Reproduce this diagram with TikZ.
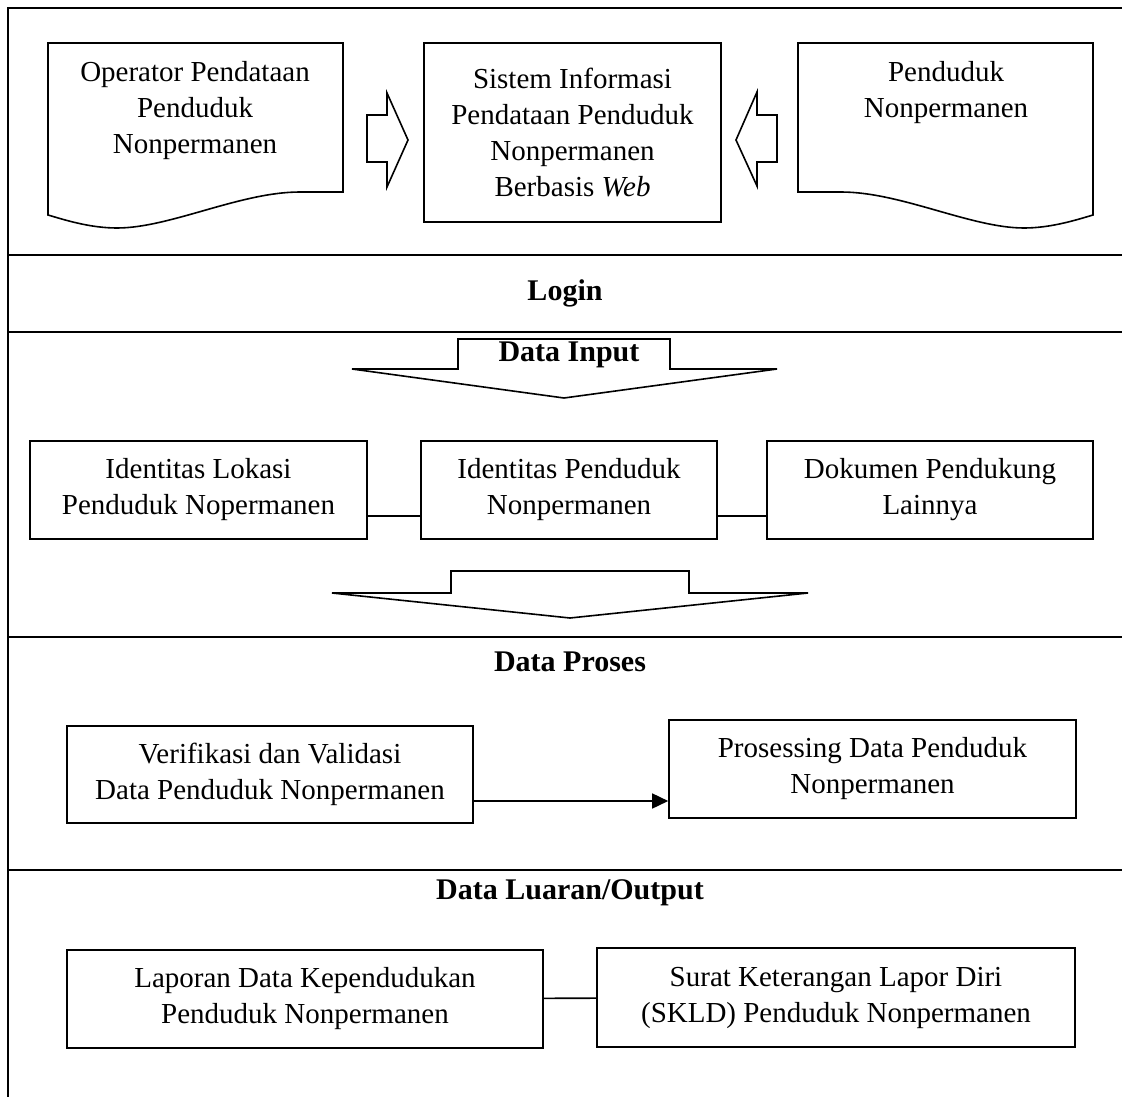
\documentclass[tikz,border=0pt]{standalone}
\usepackage{fontspec}
\setmainfont{Liberation Serif}
\usetikzlibrary{arrows.meta}

\tikzset{
  box/.style={draw, line width=1.6pt, align=center, inner sep=0pt,
    font=\fontsize{29}{36}\selectfont},
  heading/.style={font=\fontsize{30}{34}\selectfont\bfseries},
  rule/.style={line width=2pt},
  outline/.style={draw, line width=1.6pt, line join=miter},
}

\begin{document}
\begin{tikzpicture}[x=1pt, y=-1pt]
    \useasboundingbox (0,0) rectangle (1122,1097);

    % frame and section rules
    \draw[rule] (1122,8) -- (8,8) -- (8,1097);
    \foreach \yy in {255,332,637,870}
        \draw[rule] (8,\yy) -- (1122,\yy);

    % documents and the system
    \draw[outline] (48,43) -- (343,43) -- (343,192) -- (300,192)
        .. controls (240,192) and (170,228) .. (117,228)
        .. controls (90,228) and (65,220) .. (48,215) -- cycle;
    \node[box, draw=none, anchor=north] (operator) at (195,61)
        {Operator Pendataan\\Penduduk\\Nonpermanen};
    \draw[outline] (1093,43) -- (798,43) -- (798,192) -- (841,192)
        .. controls (901,192) and (971,228) .. (1024,228)
        .. controls (1051,228) and (1076,220) .. (1093,215) -- cycle;
    \node[box, draw=none, anchor=north] (penduduk) at (946,61)
        {Penduduk\\Nonpermanen};
    \node[box, minimum width=297pt, minimum height=179pt] (sistem) at (572.5,132.5)
        {Sistem Informasi\\Pendataan Penduduk\\Nonpermanen\\Berbasis \textit{Web}};

    \draw[outline] (367,115) -- (387,115) -- (387,93) -- (408,140)
        -- (387,187) -- (387,162) -- (367,162) -- cycle;
    \draw[outline] (777,115) -- (757,115) -- (757,92) -- (736,140)
        -- (757,186) -- (757,162) -- (777,162) -- cycle;

    \node[heading] (login) at (565,293) {Login};

    % data input
    \draw[outline] (458,369) -- (458,339) -- (670,339) -- (670,369)
        -- (777,369) -- (564,398) -- (352,369) -- cycle;
    \node[heading] (input) at (569,355) {Data Input};

    \node[box, minimum width=337pt, minimum height=98pt] (lokasi) at (198.5,490)
        {Identitas Lokasi\\Penduduk Nopermanen};
    \node[box, minimum width=296pt, minimum height=98pt] (identitas) at (569,490)
        {Identitas Penduduk\\Nonpermanen};
    \node[box, minimum width=326pt, minimum height=98pt] (dokumen) at (930,490)
        {Dokumen Pendukung\\Lainnya};
    \draw[line width=1.6pt] ([yshift=-26pt]lokasi.east) -- ([yshift=-26pt]identitas.west);
    \draw[line width=1.6pt] ([yshift=-26pt]identitas.east) -- ([yshift=-26pt]dokumen.west);

    \draw[outline] (451,593) -- (451,571) -- (689,571) -- (689,593)
        -- (808,593) -- (570,618) -- (332,593) -- cycle;

    % data proses
    \node[heading] (proses) at (570,662) {Data Proses};
    \node[box, minimum width=406pt, minimum height=97pt] (verifikasi) at (270,774.5)
        {Verifikasi dan Validasi\\Data Penduduk Nonpermanen};
    \node[box, minimum width=407pt, minimum height=98pt] (prosessing) at (872.5,769)
        {Prosessing Data Penduduk\\Nonpermanen};
    \draw[line width=1.6pt, -{Triangle[length=16pt, width=15pt]}]
        ([yshift=-26.5pt]verifikasi.east) -- (prosessing.west |- 0,801);

    % data luaran
    \node[heading] (luaran) at (570,893) {Data Luaran/Output};
    \node[box, minimum width=476pt, minimum height=98pt] (laporan) at (305,999)
        {Laporan Data Kependudukan\\Penduduk Nonpermanen};
    \node[box, minimum width=478pt, minimum height=99pt] (surat) at (836,997.5)
        {Surat Keterangan Lapor Diri\\(SKLD) Penduduk Nonpermanen};
    \draw[line width=1.6pt] (laporan) -- (surat);

\end{tikzpicture}
\end{document}
